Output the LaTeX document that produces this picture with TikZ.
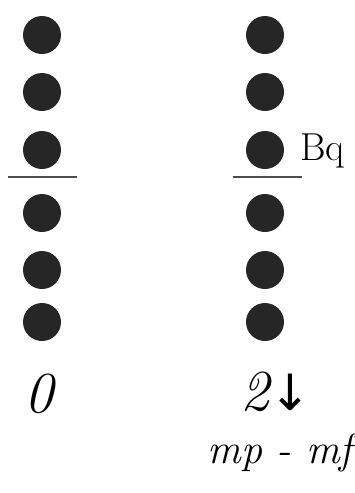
\documentclass[tikz,border=0pt]{standalone}
\usepackage{fontspec}
\newfontfamily\arrowfont{DejaVu Sans}
\begin{document}
\begin{tikzpicture}[x=1pt,y=-1pt,
  dot/.style={circle,fill=black!85,inner sep=0pt,minimum size=38pt},
  hand/.style={font=\fontsize{42}{46}\selectfont\itshape,inner sep=0pt},
  digit/.style={font=\fontsize{58}{62}\selectfont\itshape,inner sep=0pt},
  bar/.style={line width=1.6pt,black!70}]
\useasboundingbox (0,0) rectangle (354,493);
\foreach \i/\y in {1/35,2/92,3/150,4/213,5/270,6/322}{
  \node[dot] (l\i) at (42,\y) {};
  \node[dot] (r\i) at (265,\y) {};
}
\coordinate (la) at (8,177);\coordinate (lb) at (77,177);
\coordinate (ra) at (233,177);\coordinate (rb) at (302,177);
\draw[bar] (la) -- (lb);\draw[bar] (ra) -- (rb);
\node[font=\fontsize{39}{43}\selectfont,inner sep=0pt,anchor=base west] (bq) at (300,160) {Bq};
\node[digit,anchor=base] (zero) at (39,412) {0};
\node[digit,anchor=base] (two) at (276,410) {2{\arrowfont\fontsize{50}{54}\selectfont\upshape ↓}};
\node[hand,anchor=base] (diff) at (280,463) {mp - mf};
\end{tikzpicture}
\end{document}
